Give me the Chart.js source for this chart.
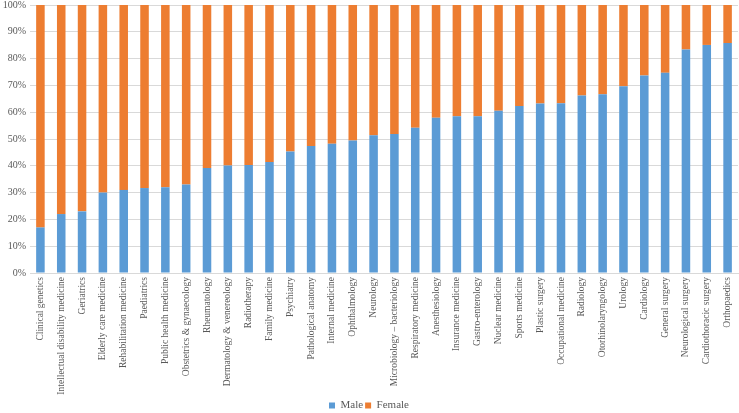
<!DOCTYPE html>
<html>
<head>
<meta charset="utf-8">
<script src="https://cdn.jsdelivr.net/npm/chart.js@4"></script>
<style>
  html, body { margin: 0; padding: 0; background: #fff; }
  #wrap { width: 739px; height: 413px; }
</style>
</head>
<body>
<div id="wrap"><canvas id="genderChart" width="739" height="413"></canvas></div>
<script>
// --- data ---
const specialties = [
    'Clinical genetics', 'Intellectual disability medicine', 'Geriatrics', 'Elderly care medicine',
    'Rehabilitation medicine', 'Paediatrics', 'Public health medicine', 'Obstetrics & gynaecology',
    'Rheumatology', 'Dermatology & venereology', 'Radiotherapy', 'Family medicine', 'Psychiatry',
    'Pathological anatomy', 'Internal medicine', 'Ophthalmology', 'Neurology',
    'Microbiology \u2013 bacteriology', 'Respiratory medicine', 'Anesthesiology', 'Insurance medicine',
    'Gastro-enterology', 'Nuclear medicine', 'Sports medicine', 'Plastic surgery',
    'Occupational medicine', 'Radiology', 'Otorhinolaryngology', 'Urology', 'Cardiology',
    'General surgery', 'Neurological surgery', 'Cardiothoracic surgery', 'Orthopaedics'
];

const malePct = [
    17, 22, 23, 30, 31, 31.7, 32, 33, 39.2, 40.1, 40.3, 41.4, 45.3, 47.4, 48.2, 49.4, 51.4,
    51.9, 54.2, 57.9, 58.5, 58.5, 60.5, 62.3, 63.2, 63.3, 66.2, 66.7, 69.7, 73.7, 74.7, 83.4,
    85.1, 85.8
];

const femalePct = [
    83, 78, 77, 70, 69, 68.3, 68, 67, 60.8, 59.9, 59.7, 58.6, 54.7, 52.6, 51.8, 50.6, 48.6,
    48.1, 45.8, 42.1, 41.5, 41.5, 39.5, 37.7, 36.8, 36.7, 33.8, 33.3, 30.3, 26.3, 25.3, 16.6,
    14.9, 14.2
];

const seriesNames = ['Male', 'Female'];
const yTicks = [0, 10, 20, 30, 40, 50, 60, 70, 80, 90, 100];

const BLUE = '#5b9bd5';
const ORANGE = '#ed7d31';
const TEXT = '#595959';
const GRID = '#d9d9d9';
const SERIF = '"Liberation Serif", "DejaVu Serif", serif';

const ctx = document.getElementById('genderChart').getContext('2d');
new Chart(ctx, {
    type: 'bar',
    data: {
        labels: specialties,
        datasets: [
            { label: seriesNames[0], data: malePct, backgroundColor: BLUE, categoryPercentage: 1, barPercentage: 0.41 },
            { label: seriesNames[1], data: femalePct, backgroundColor: ORANGE, categoryPercentage: 1, barPercentage: 0.41 }
        ]
    },
    options: {
        responsive: false,
        animation: false,
        layout: { padding: { top: 0, right: 1, left: 0, bottom: -8 } },
        scales: {
            x: {
                stacked: true,
                grid: { display: false, drawTicks: false },
                border: { color: GRID },
                ticks: {
                    color: TEXT, font: { family: SERIF, size: 9.5 },
                    minRotation: 90, maxRotation: 90, autoSkip: false, padding: 4
                },
                afterFit: s => { s.height = 125; s.paddingLeft = 0; s.paddingRight = 0; }
            },
            y: {
                stacked: true,
                min: 0, max: 100,
                afterBuildTicks: s => { s.ticks = yTicks.map(v => ({ value: v })); },
                grid: { color: GRID, drawTicks: false },
                border: { display: false },
                ticks: {
                    color: TEXT, font: { family: SERIF, size: 10 }, padding: 4,
                    callback: v => v + '%'
                },
                afterFit: s => { s.width = 30; s.paddingTop = 5; s.paddingBottom = 0; }
            }
        },
        plugins: {
            legend: {
                position: 'bottom',
                labels: {
                    color: TEXT, font: { family: SERIF, size: 11 },
                    boxWidth: 6, boxHeight: 6, padding: 2
                }
            },
            tooltip: { enabled: false }
        }
    }
});
</script>
</body>
</html>
